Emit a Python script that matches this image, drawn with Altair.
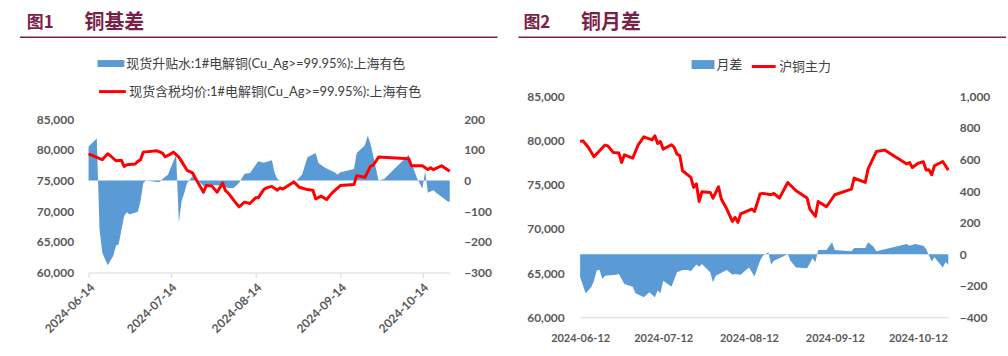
import altair as alt
import pandas as pd

# ---------------- data ----------------
P1_AREA_LABEL = "现货升贴水:1#电解铜(Cu_Ag>=99.95%):上海有色"
P1_LINE_LABEL = "现货含税均价:1#电解铜(Cu_Ag>=99.95%):上海有色"
P2_AREA_LABEL = "月差"
P2_LINE_LABEL = "沪铜主力"

p1_line_dates = ["2024-06-14", "2024-06-19", "2024-06-21", "2024-06-22", "2024-06-24", "2024-06-26",
                 "2024-06-27", "2024-06-28", "2024-07-01", "2024-07-02", "2024-07-03", "2024-07-04",
                 "2024-07-09", "2024-07-11", "2024-07-12", "2024-07-14", "2024-07-15", "2024-07-17",
                 "2024-07-18", "2024-07-20", "2024-07-22", "2024-07-23", "2024-07-26", "2024-07-27",
                 "2024-07-29", "2024-07-31", "2024-08-02", "2024-08-03", "2024-08-04", "2024-08-07",
                 "2024-08-08", "2024-08-10", "2024-08-12", "2024-08-14", "2024-08-15", "2024-08-17",
                 "2024-08-18", "2024-08-20", "2024-08-22", "2024-08-23", "2024-08-24", "2024-08-28",
                 "2024-08-30", "2024-09-02", "2024-09-04", "2024-09-05", "2024-09-07", "2024-09-09",
                 "2024-09-11", "2024-09-14", "2024-09-19", "2024-09-20", "2024-09-23", "2024-09-25",
                 "2024-09-26", "2024-09-28", "2024-10-09", "2024-10-10", "2024-10-14", "2024-10-16",
                 "2024-10-17", "2024-10-18", "2024-10-21", "2024-10-24"]
p1_line_vals = [79370, 78400, 79370, 79050, 78230, 78300,
                77320, 77580, 77700, 78130, 78400, 79640,
                79860, 79480, 78880, 79320, 79640, 78830,
                78130, 76670, 76240, 75420, 73100, 74180,
                74130, 73100, 74610, 73370, 72990, 71250,
                70720, 71480, 71250, 72180, 72180, 73530,
                73800, 74050, 73430, 73800, 73620, 74780,
                73910, 73530, 73420, 72020, 72460, 71900,
                72990, 74180, 74340, 75800, 75530, 77320,
                77500, 78830, 78560, 77420, 77420, 76780,
                77100, 76780, 77420, 76510]

p1_area_dates = ["2024-06-14", "2024-06-17", "2024-06-18", "2024-06-19", "2024-06-21", "2024-06-23",
                 "2024-06-24", "2024-06-25", "2024-06-27", "2024-06-28", "2024-06-29", "2024-07-02",
                 "2024-07-03", "2024-07-04", "2024-07-05", "2024-07-09", "2024-07-10", "2024-07-11",
                 "2024-07-13", "2024-07-16", "2024-07-17", "2024-07-18", "2024-07-19", "2024-07-20",
                 "2024-07-22", "2024-07-24", "2024-07-26", "2024-07-28", "2024-08-02", "2024-08-04",
                 "2024-08-06", "2024-08-08", "2024-08-10", "2024-08-12", "2024-08-15", "2024-08-17",
                 "2024-08-20", "2024-08-21", "2024-08-22", "2024-08-23", "2024-08-27", "2024-08-29",
                 "2024-08-31", "2024-09-02", "2024-09-05", "2024-09-06", "2024-09-08", "2024-09-11",
                 "2024-09-12", "2024-09-13", "2024-09-14", "2024-09-19", "2024-09-20", "2024-09-23",
                 "2024-09-24", "2024-09-25", "2024-09-28", "2024-09-30", "2024-10-09", "2024-10-10",
                 "2024-10-12", "2024-10-14", "2024-10-15", "2024-10-16", "2024-10-18", "2024-10-19",
                 "2024-10-21", "2024-10-23", "2024-10-24"]
p1_area_vals = [111, 137, -158, -235, -276, -246,
                -213, -208, -116, -103, -111, -102,
                -67, -8, 0, -5, -5, 5,
                19, 85, -138, -67, -40, -8,
                14, 0, -18, -14, -17, -24,
                -24, -8, 22, 25, 63, 58,
                66, 25, 5, 0, -1, 0,
                19, 76, 90, 57, 44, 30,
                27, 19, 27, 38, 90, 115,
                146, 122, 0, 5, 84, 57,
                8, -27, 30, -40, -32, -40,
                -53, -67, -70]

p2_line_dates = ["2024-06-12", "2024-06-13", "2024-06-15", "2024-06-17", "2024-06-21", "2024-06-22",
                 "2024-06-24", "2024-06-26", "2024-06-27", "2024-06-28", "2024-07-01", "2024-07-03",
                 "2024-07-05", "2024-07-08", "2024-07-09", "2024-07-10", "2024-07-11", "2024-07-12",
                 "2024-07-15", "2024-07-16", "2024-07-17", "2024-07-18", "2024-07-19", "2024-07-22",
                 "2024-07-23", "2024-07-24", "2024-07-25", "2024-07-26", "2024-07-29", "2024-07-30",
                 "2024-08-01", "2024-08-02", "2024-08-04", "2024-08-06", "2024-08-07", "2024-08-08",
                 "2024-08-09", "2024-08-13", "2024-08-14", "2024-08-16", "2024-08-17", "2024-08-20",
                 "2024-08-21", "2024-08-23", "2024-08-26", "2024-08-29", "2024-08-30", "2024-09-02",
                 "2024-09-03", "2024-09-05", "2024-09-06", "2024-09-09", "2024-09-12", "2024-09-18",
                 "2024-09-19", "2024-09-23", "2024-09-24", "2024-09-27", "2024-09-30", "2024-10-08",
                 "2024-10-09", "2024-10-10", "2024-10-12", "2024-10-14", "2024-10-15", "2024-10-16",
                 "2024-10-17", "2024-10-18", "2024-10-21", "2024-10-23"]
p2_line_vals = [79890, 79970, 79210, 78160, 79490, 79400,
                78650, 78580, 77520, 78390, 78010, 79520,
                80420, 80080, 80540, 79670, 79890, 79030,
                79520, 79210, 78470, 78300, 76580, 75830,
                74700, 75100, 73110, 74210, 74130, 73490,
                74770, 73380, 72250, 70850, 71300, 70740,
                71690, 72250, 71980, 73950, 74020, 73870,
                74020, 73490, 75260, 74320, 74130, 73490,
                72250, 71420, 73110, 72510, 73870, 74510,
                75760, 75260, 76770, 78760, 78920, 77340,
                77520, 76950, 77410, 77600, 76660, 76700,
                76130, 77150, 77630, 76660]

p2_area_dates = ["2024-06-12", "2024-06-14", "2024-06-16", "2024-06-17", "2024-06-18", "2024-06-19",
                 "2024-06-20", "2024-06-21", "2024-06-25", "2024-06-26", "2024-06-27", "2024-06-28",
                 "2024-07-01", "2024-07-02", "2024-07-05", "2024-07-07", "2024-07-09", "2024-07-10",
                 "2024-07-11", "2024-07-12", "2024-07-15", "2024-07-17", "2024-07-19", "2024-07-21",
                 "2024-07-22", "2024-07-24", "2024-07-25", "2024-07-26", "2024-07-29", "2024-07-30",
                 "2024-07-31", "2024-08-04", "2024-08-06", "2024-08-07", "2024-08-09", "2024-08-10",
                 "2024-08-12", "2024-08-14", "2024-08-16", "2024-08-17", "2024-08-19", "2024-08-20",
                 "2024-08-21", "2024-08-26", "2024-08-27", "2024-08-29", "2024-09-02", "2024-09-04",
                 "2024-09-05", "2024-09-06", "2024-09-09", "2024-09-11", "2024-09-12", "2024-09-18",
                 "2024-09-19", "2024-09-23", "2024-09-24", "2024-09-26", "2024-09-27", "2024-10-08",
                 "2024-10-09", "2024-10-11", "2024-10-14", "2024-10-15", "2024-10-16", "2024-10-17",
                 "2024-10-18", "2024-10-21", "2024-10-22", "2024-10-23"]
p2_area_vals = [-147, -248, -210, -168, -104, -98,
                -157, -136, -130, -126, -157, -189,
                -206, -248, -273, -242, -273, -231,
                -248, -168, -206, -115, -100, -100,
                -109, -66, -79, -62, -115, -178,
                -136, -100, -130, -126, -130, -115,
                -84, -142, -41, -10, 12, -66,
                -41, 0, -41, -84, -90, -26,
                -51, 26, 26, 75, 26, 18,
                39, 39, 75, 47, 18, 65,
                54, 65, 54, 33, -9, -45,
                -20, -84, -51, -66]

p1_left_ticks = [60000, 65000, 70000, 75000, 80000, 85000]
p1_right_ticks = [-300, -200, -100, 0, 100, 200]
p2_left_ticks = [60000, 65000, 70000, 75000, 80000, 85000]
p2_right_ticks = [-400, -200, 0, 200, 400, 600, 800, 1000]


def frame(dates, vals, label):
    return pd.DataFrame({"date": pd.to_datetime(dates), "value": vals, "series": label})


df1a = frame(p1_area_dates, p1_area_vals, P1_AREA_LABEL)
df1l = frame(p1_line_dates, p1_line_vals, P1_LINE_LABEL)
df2a = frame(p2_area_dates, p2_area_vals, P2_AREA_LABEL)
df2l = frame(p2_line_dates, p2_line_vals, P2_LINE_LABEL)
one = pd.DataFrame({"k": [0]})

# ---------------- styles ----------------
MAROON = "#7A1F47"
BLUE = "#5B9BD5"
RED = "#FF0000"
AX_COLOR = "#595959"
AX_FONT = "Lato"
LEG_FONT = "Lato, Noto Sans CJK SC"
CJK = "Noto Sans CJK SC"

# both panels share the same group origin (top of panel 2's plot area);
# panel 1's plot occupies only the lower part of its group via the y range.
P1_H = 177          # group height of panel 1 (x axis at bottom)
P1_TOP = 23         # top of panel 1's value range inside its group
P2_H = 222


def dt(m, d):
    return alt.DateTime(year=2024, month=m, date=d)


def yaxis(orient, values, pad):
    return alt.Axis(orient=orient, values=values, format=",.0f", title=None, grid=False,
                    domain=False, ticks=False, labelFont=AX_FONT, labelFontSize=12,
                    labelFontWeight="bold", labelColor=AX_COLOR, labelPadding=pad)


def legend(x, y, sym, size, sw):
    return alt.Legend(title=None, orient="none", legendX=x, legendY=y, symbolType=sym,
                      symbolSize=size, symbolStrokeWidth=sw, labelFont=LEG_FONT,
                      labelFontSize=13, labelColor="#404040", labelLimit=600,
                      padding=0, labelOffset=2)


def title_layers(x_fig, x_name, y_title, x_rule0, x_rule1, y_rule, fig, name):
    t1 = alt.Chart(one).mark_text(align="left", baseline="middle", font=CJK, fontWeight="bold",
                                  fontSize=17, color=MAROON).encode(
        x=alt.value(x_fig), y=alt.value(y_title), text=alt.value(fig))
    t2 = alt.Chart(one).mark_text(align="left", baseline="middle", font=CJK, fontWeight="bold",
                                  fontSize=20, color=MAROON).encode(
        x=alt.value(x_name), y=alt.value(y_title), text=alt.value(name))
    rule = alt.Chart(one).mark_rule(color=MAROON, strokeWidth=1.5).encode(
        x=alt.value(x_rule0), x2=alt.value(x_rule1), y=alt.value(y_rule))
    return [rule, t1, t2]


# ---------------- panel 1 ----------------
x1 = alt.X("date:T", scale=alt.Scale(domain=[dt(6, 14), dt(10, 24)]),
           axis=alt.Axis(values=[dt(6, 14), dt(7, 14), dt(8, 14), dt(9, 14), dt(10, 14)],
                         format="%Y-%m-%d", labelAngle=-45, title=None, grid=False,
                         domainColor="#D9D9D9", tickColor="#D9D9D9", tickSize=5,
                         labelOverlap=False, labelFlush=False,
                         labelFont=AX_FONT, labelFontSize=12, labelFontWeight="bold",
                         labelColor=AX_COLOR, labelPadding=4))

area1 = alt.Chart(df1a).mark_area(opacity=1).encode(
    x=x1,
    y=alt.Y("value:Q", scale=alt.Scale(domain=[-300, 200], nice=False, range=[P1_H, P1_TOP]),
            axis=yaxis("right", p1_right_ticks, 14)),
    fill=alt.Fill("series:N", scale=alt.Scale(domain=[P1_AREA_LABEL], range=[BLUE]),
                  legend=legend(9, -46.5, "M-1,-0.26H1V0.26H-1Z", 729, 0)),
)
line1 = alt.Chart(df1l).mark_line(strokeWidth=3, strokeJoin="round").encode(
    x=x1,
    y=alt.Y("value:Q", scale=alt.Scale(domain=[60000, 85000], nice=False, zero=False,
                                       range=[P1_H, P1_TOP]),
            axis=yaxis("left", p1_left_ticks, 15)),
    stroke=alt.Stroke("series:N", scale=alt.Scale(domain=[P1_LINE_LABEL], range=[RED]),
                      legend=legend(9, -19.8, "stroke", 729, 3)),
)
panel1 = alt.layer(area1, line1, *title_layers(-62, -4, -73.3, -69, 411, -59.3, "图1", "铜基差")).resolve_scale(
    y="independent", fill="independent", stroke="independent").properties(width=363, height=P1_H)

# ---------------- panel 2 ----------------
x2 = alt.X("date:T", scale=alt.Scale(domain=[dt(6, 12), dt(10, 23)]),
           axis=alt.Axis(values=[dt(6, 12), dt(7, 12), dt(8, 12), dt(9, 12), dt(10, 12)],
                         format="%Y-%m-%d", labelAngle=0, title=None, grid=False,
                         domainColor="#D9D9D9", ticks=False, labelOverlap=False,
                         labelFlush=False,
                         labelFont=AX_FONT, labelFontSize=11, labelFontWeight="bold",
                         labelColor=AX_COLOR, labelPadding=15))

area2 = alt.Chart(df2a).mark_area(opacity=1).encode(
    x=x2,
    y=alt.Y("value:Q", scale=alt.Scale(domain=[-400, 1000], nice=False),
            axis=yaxis("right", p2_right_ticks, 11)),
    fill=alt.Fill("series:N", scale=alt.Scale(domain=[P2_AREA_LABEL], range=[BLUE]),
                  legend=legend(112, -43.5, "M-1,-0.39H1V0.39H-1Z", 529, 0)),
)
line2 = alt.Chart(df2l).mark_line(strokeWidth=3, strokeJoin="round").encode(
    x=x2,
    y=alt.Y("value:Q", scale=alt.Scale(domain=[60000, 85000], nice=False, zero=False),
            axis=yaxis("left", p2_left_ticks, 16)),
    stroke=alt.Stroke("series:N", scale=alt.Scale(domain=[P2_LINE_LABEL], range=[RED]),
                      legend=legend(171, -43.5, "stroke", 576, 3)),
)
panel2 = alt.layer(area2, line2, *title_layers(-57, 1, -73.3, -62, 428, -59.3, "图2", "铜月差")).resolve_scale(
    y="independent", fill="independent", stroke="independent").properties(width=370, height=P2_H)

chart = alt.hconcat(panel1, panel2, spacing=17).properties(
    padding={"left": 18, "top": 12, "right": 0, "bottom": 0},
    background="white",
).configure_view(stroke="transparent")

chart.save("out.html", embed_options={"renderer": "svg", "actions": False})
